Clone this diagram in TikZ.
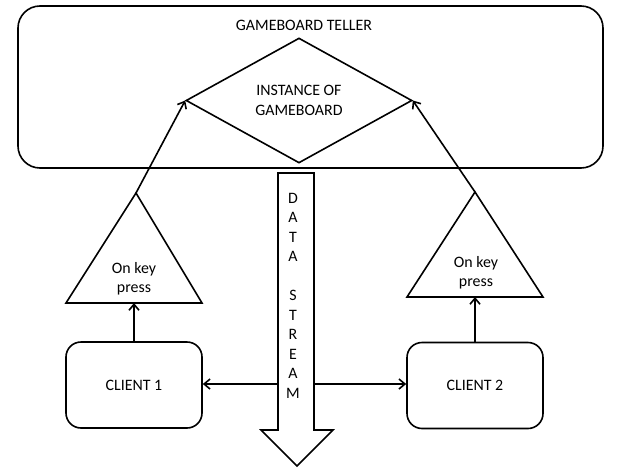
\documentclass[tikz,border=0pt]{standalone}
\usepackage{fontspec}
\setmainfont{Carlito}
\usetikzlibrary{
  positioning,
  shapes.geometric,
  calc,
  arrows.meta,
}
\tikzset{
  >={Straight Barb[length=6pt,width=10pt]},
  every path/.style={line width=1.6pt},
  txt/.style={
    font=\fontsize{15.9}{19.5}\selectfont,
    align=center,
    inner sep=0pt,
  },
  box/.style={
    txt,
    rectangle,
    draw,
    line width=1.6pt,
  },
  teller/.style={
    box,
    rounded corners=22pt,
    minimum width=585pt,
    minimum height=162pt,
  },
  instance/.style={
    box,
    diamond,
    aspect=1.8,
    minimum width=226pt,
    minimum height=125pt,
  },
  client/.style={
    box,
    rounded corners=15pt,
    minimum width=136pt,
    minimum height=86pt,
  },
  link/.style={
    ->,
    line width=1.6pt,
  },
}

\begin{document}
\begin{tikzpicture}[x=1pt,y=-1pt]
  \useasboundingbox (0,0) rectangle (621,471);

  \node [teller] (board) at (310.5,87) {};
  \node [txt] (title) at (304,25) {GAMEBOARD TELLER};
  \node [instance] (game) at (299,100.5) {INSTANCE OF\\GAMEBOARD};

  \node [client] (client1) at (134,385) {CLIENT 1};
  \node [client] (client2) at (475,385.5) {CLIENT 2};

  % key press triangles
  \coordinate (press1 top) at (136,193);
  \coordinate (press1 left) at (66,303);
  \coordinate (press1 right) at (202,303);
  \coordinate (press2 top) at (475,192);
  \coordinate (press2 left) at (407,297);
  \coordinate (press2 right) at (543,297);
  \draw (press1 top) -- (press1 left) -- (press1 right) -- cycle;
  \draw (press2 top) -- (press2 left) -- (press2 right) -- cycle;
  \node [txt] (press1) at (134,279) {On key\\press};
  \node [txt] (press2) at (476,273) {On key\\press};

  % data stream
  \coordinate (stream top) at (296,173);
  \coordinate (stream tip) at (297,466);
  \draw (278,173) -- (314,173) -- (314,430) -- (333,430) -- (stream tip)
    -- (261,430) -- (278,430) -- cycle;
  \node [txt] (stream) at (293,295.5)
    {D\\A\\T\\A\\~\\S\\T\\R\\E\\A\\M};
  \coordinate (stream west) at (278,384);
  \coordinate (stream east) at (314,384);

  \draw [link] (client1.north) -- (client1.north |- press1 left);
  \draw [link] (client2.north) -- (client2.north |- press2 left);
  \draw [link] (press1 top) -- (game.west);
  \draw [link] (press2 top) -- (game.east);
  \draw [link] (stream west) -- (stream west -| client1.east);
  \draw [link] (stream east) -- (stream east -| client2.west);
\end{tikzpicture}
\end{document}
